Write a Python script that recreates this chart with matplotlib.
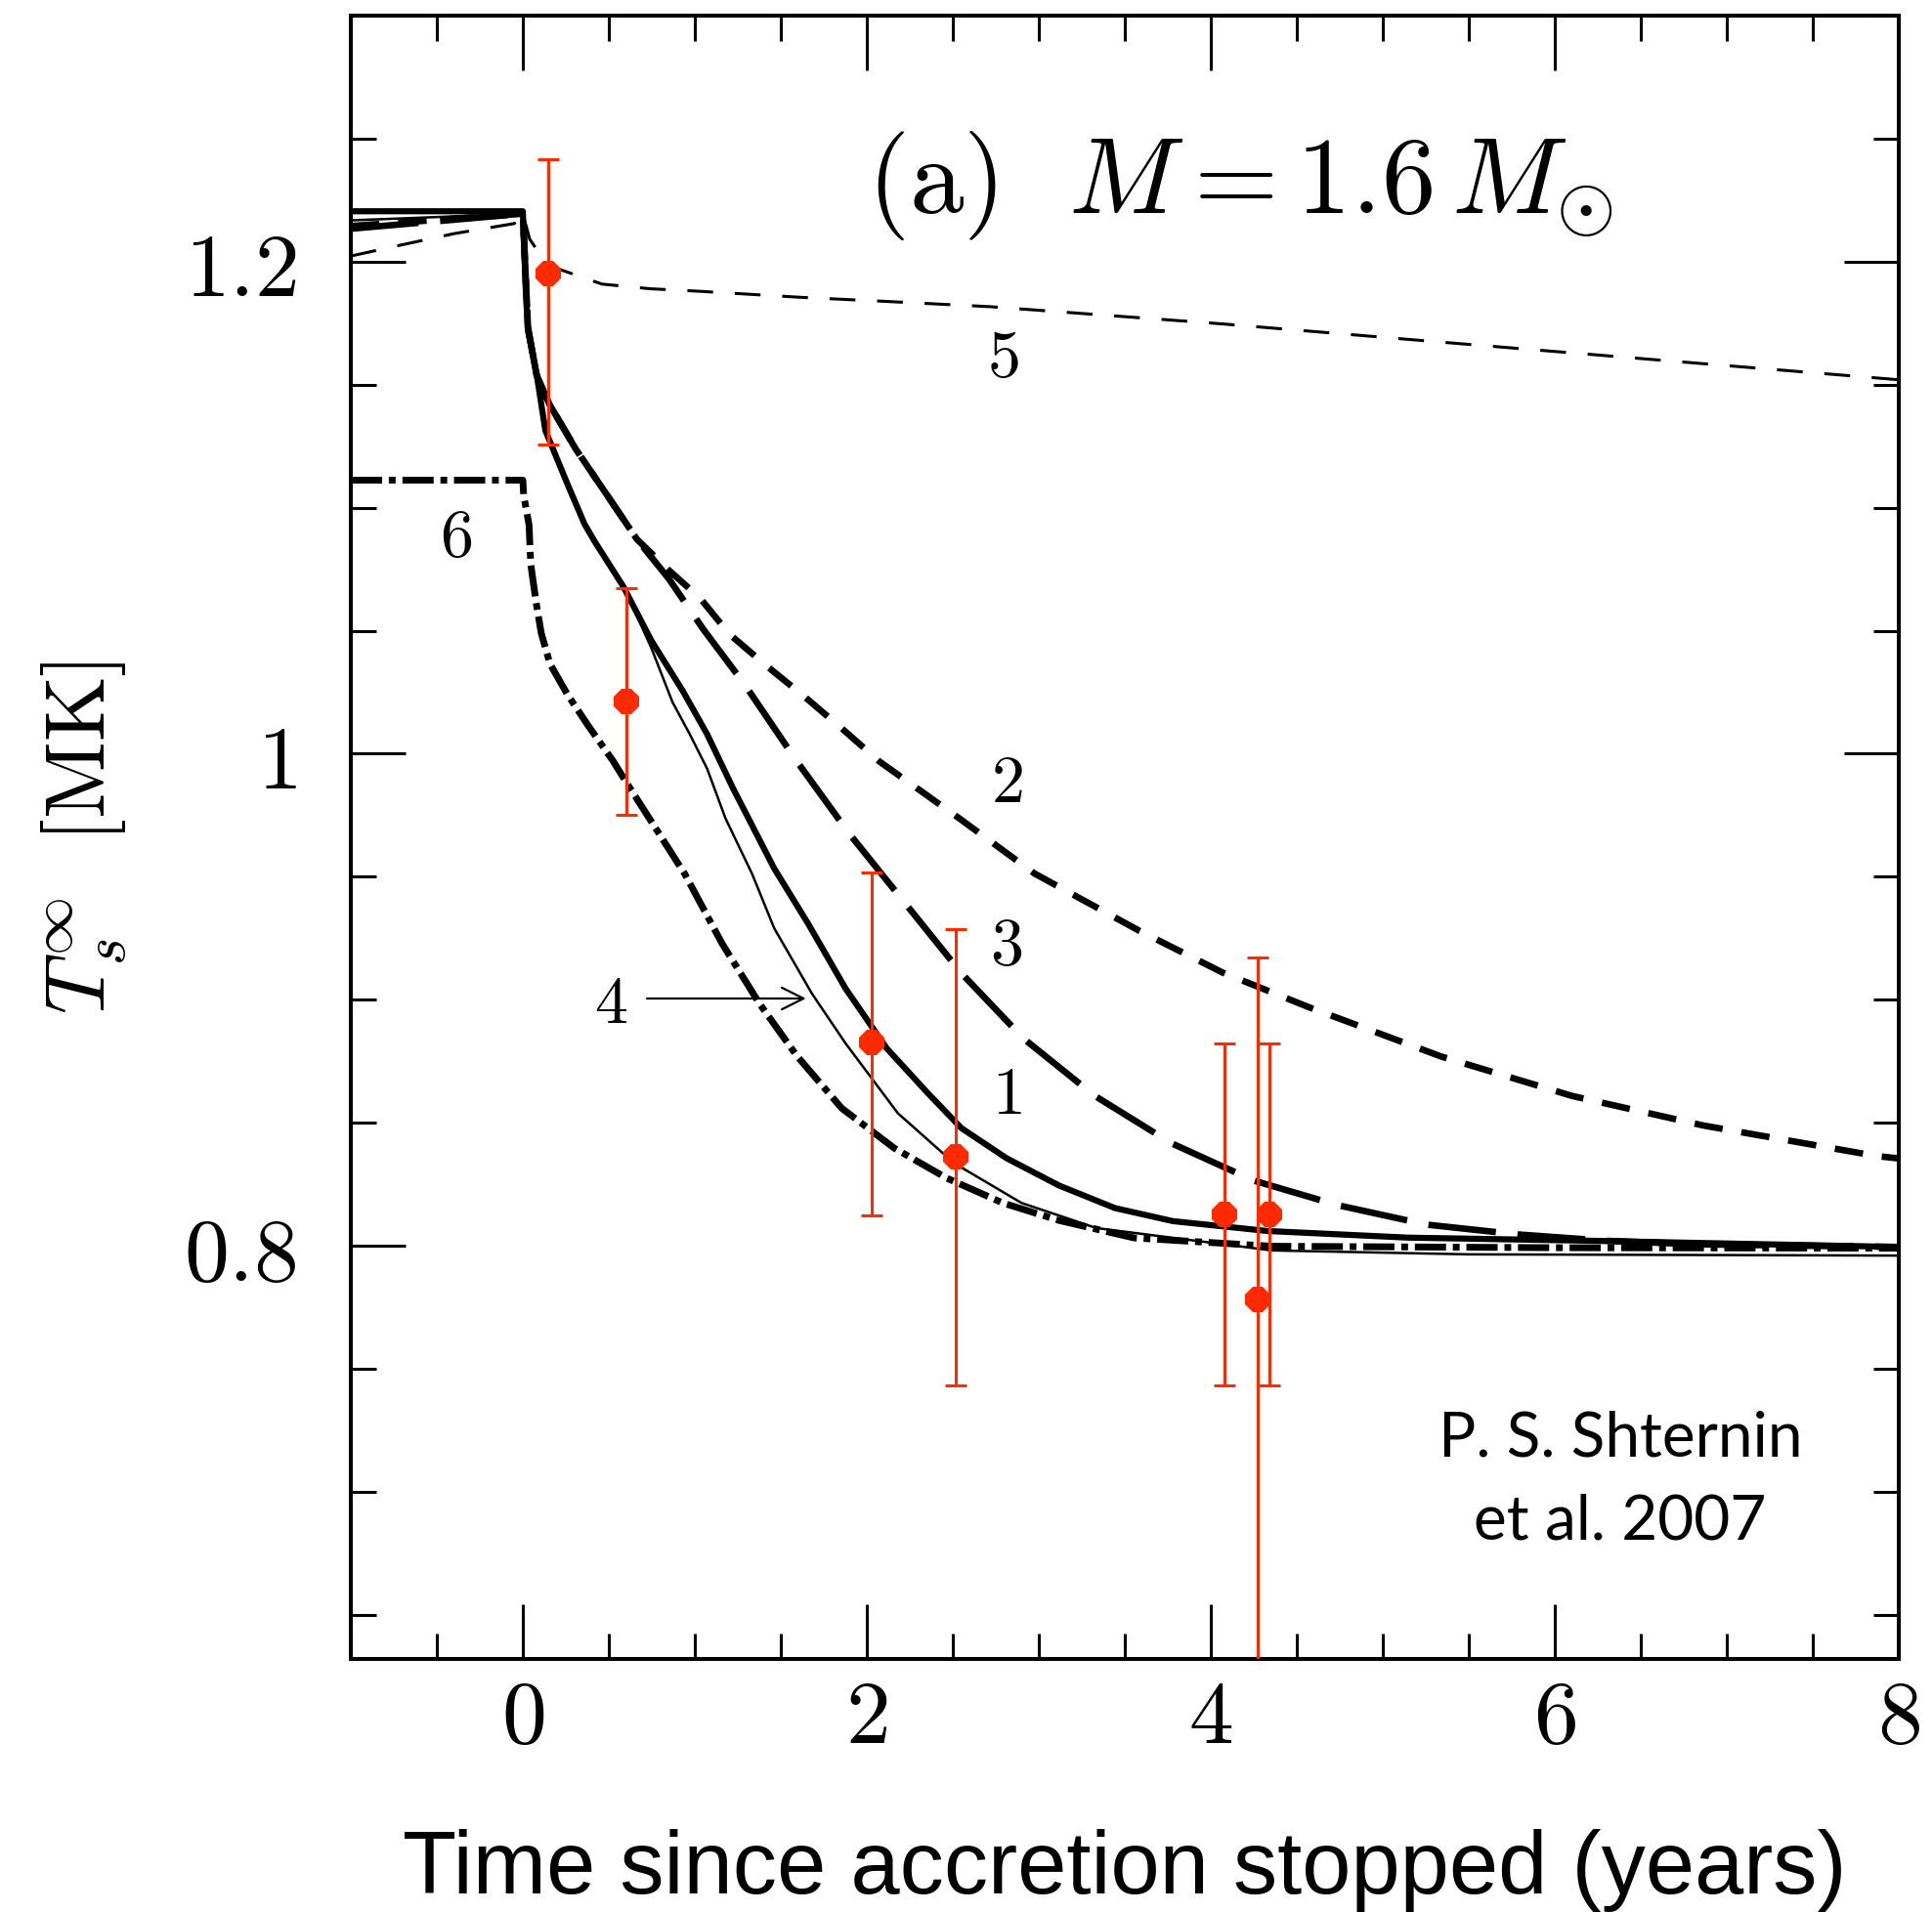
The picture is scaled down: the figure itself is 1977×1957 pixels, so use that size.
import matplotlib
matplotlib.use('Agg')
import matplotlib.pyplot as plt
from matplotlib.ticker import MultipleLocator

plt.rcParams['mathtext.fontset'] = 'cm'
plt.rcParams['lines.scale_dashes'] = False

# model cooling curves, time since accretion stopped (yr) vs T_s (MK)
t1 = [-1.0, 0.0, 0.016, 0.029, 0.08, 0.131, 0.257, 0.359, 0.42, 0.584, 0.747, 0.93,
      1.071, 1.223, 1.462, 1.658, 1.876, 2.115, 2.355, 2.55, 2.812, 3.117, 3.443,
      3.78, 4.328, 5.145, 6.233, 8.0]
T1 = [1.2205, 1.2205, 1.19, 1.1726, 1.1543, 1.1314, 1.110, 1.0933, 1.086, 1.068, 1.046,
      1.0255, 1.008, 0.9858, 0.9533, 0.931, 0.9046, 0.8803, 0.862, 0.8478, 0.8356,
      0.8245, 0.8153, 0.810, 0.806, 0.8033, 0.802, 0.7995]

t2 = [-1.0, 0.0, 0.03, 0.08, 0.155, 0.308, 0.486, 0.663, 0.85, 1.031, 1.201, 1.417,
      1.636, 1.864, 2.072, 2.54, 2.975, 3.585, 4.07, 4.576, 5.34, 6.10, 6.862, 7.877, 8.0]
T2 = [1.2145, 1.2195, 1.173, 1.154, 1.142, 1.1238, 1.1055, 1.0872, 1.0745, 1.0632,
      1.0486, 1.0357, 1.0233, 1.0097, 0.9969, 0.9736, 0.9513, 0.928, 0.911, 0.8968,
      0.8769, 0.8609, 0.8489, 0.8364, 0.8355]

t3 = [-1.0, 0.0, 0.03, 0.08, 0.155, 0.308, 0.486, 0.663, 0.85, 1.048, 1.288, 1.593,
      1.898, 2.224, 2.551, 2.91, 3.324, 3.77, 4.249, 4.737, 5.254, 5.784, 6.30, 6.832, 8.0]
T3 = [1.2134, 1.2195, 1.173, 1.154, 1.142, 1.1238, 1.1055, 1.0872, 1.071, 1.0507,
      1.0283, 0.9969, 0.9675, 0.9391, 0.9107, 0.8843, 0.861, 0.8417, 0.8265, 0.8165,
      0.8086, 0.8046, 0.802, 0.8006, 0.7995]

t4 = [-1.0, 0.0, 0.016, 0.029, 0.08, 0.131, 0.257, 0.359, 0.486, 0.625, 0.747, 0.87,
      0.97, 1.071, 1.179, 1.332, 1.462, 1.68, 1.876, 2.18, 2.507, 2.899, 3.334, 4.353,
      5.5, 8.0]
T4 = [1.2168, 1.2195, 1.19, 1.1726, 1.1543, 1.1314, 1.1085, 1.0933, 1.078, 1.062,
      1.043, 1.021, 1.008, 0.994, 0.9736, 0.9513, 0.929, 0.9026, 0.8823, 0.8539,
      0.8336, 0.8174, 0.8072, 0.7981, 0.7965, 0.796]

t5 = [-1.0, -0.7, -0.4, -0.05, 0.0, 0.04, 0.1, 0.18, 0.46, 0.74, 1.02, 1.62, 2.07,
      2.72, 4.07, 5.34, 6.61, 8.0]
T5 = [1.2023, 1.2069, 1.2114, 1.2155, 1.2195, 1.2091, 1.203, 1.1977, 1.1909, 1.189,
      1.188, 1.1855, 1.184, 1.1817, 1.1747, 1.1673, 1.160, 1.152]

t6 = [-1.0, 0.0, 0.005, 0.036, 0.046, 0.077, 0.107, 0.158, 0.26, 0.381, 0.523, 0.605,
      0.94, 1.158, 1.375, 1.593, 1.854, 2.159, 2.464, 2.79, 3.117, 3.552, 4.353, 6.0, 8.0]
T6 = [1.1112, 1.1112, 1.105, 1.093, 1.077, 1.0616, 1.049, 1.0365, 1.024, 1.0113,
      0.9972, 0.988, 0.9513, 0.9229, 0.8985, 0.8772, 0.8559, 0.8397, 0.8275, 0.8174,
      0.8103, 0.8032, 0.7998, 0.7992, 0.799]

# observations with asymmetric error bars
t_obs = [0.15, 0.60, 2.03, 2.515, 4.08, 4.275, 4.34]
T_obs = [1.1953, 1.0214, 0.8825, 0.8361, 0.8128, 0.7781, 0.8128]
T_up = [1.2418, 1.0672, 0.9519, 0.9288, 0.8824, 0.9170, 0.8824]
T_lo = [1.1257, 0.9750, 0.8125, 0.7434, 0.7431, 0.6000, 0.7431]

xticks = [0, 2, 4, 6, 8]
xticklabels = ['$0$', '$2$', '$4$', '$6$', '$8$']
yticks = [0.8, 1.0, 1.2]
yticklabels = ['$0.8$', '$1$', '$1.2$']

red = '#ff2a00'

fig = plt.figure(figsize=(19.77, 19.57), dpi=100)
ax = fig.add_axes([0.1816, 0.1323, 0.8012, 0.8595])

ax.plot(t6, T6, color='k', lw=5.0, linestyle=(0, (23, 5, 5, 5)))
ax.plot(t3, T3, color='k', lw=4.8, linestyle=(0, (50, 16)))
ax.plot(t2, T2, color='k', lw=4.8, linestyle=(0, (21, 14)))
ax.plot(t5, T5, color='k', lw=2.2, linestyle=(0, (19, 16)))
ax.plot(t4, T4, color='k', lw=1.8)
ax.plot(t1, T1, color='k', lw=4.5, solid_joinstyle='round')

yerr = [[o - l for o, l in zip(T_obs, T_lo)], [u - o for o, u in zip(T_obs, T_up)]]
ax.errorbar(t_obs, T_obs, yerr=yerr, fmt='none', ecolor=red,
            elinewidth=2.2, capsize=8, capthick=2.2, zorder=5)
ax.plot(t_obs, T_obs, '8', color=red, ms=20, mew=0, zorder=6)

# curve labels
lab_kw = dict(fontsize=49, ha='center', va='center')
ax.text(2.79, 1.161, '$5$', **lab_kw)
ax.text(2.812, 0.9878, '$2$', **lab_kw)
ax.text(2.812, 0.9219, '$3$', **lab_kw)
ax.text(2.812, 0.861, '$1$', **lab_kw)
ax.text(-0.387, 1.088, '$6$', **lab_kw)
ax.text(0.513, 0.898, '$4$', **lab_kw)
ax.annotate('', xy=(1.662, 0.9005), xytext=(0.706, 0.9005),
            arrowprops=dict(arrowstyle='->', lw=1.6, mutation_scale=40))

ax.text(2.0, 1.2196, r'$\mathrm{(a)}\ \ M = 1.6\,M_{\odot}$', fontsize=80,
        ha='left', va='baseline')

ax.text(6.38, 0.7146, 'P. S. Shternin', family='Lato', fontsize=46,
        ha='center', va='baseline')
ax.text(6.38, 0.6808, 'et al. 2007', family='Lato', fontsize=46,
        ha='center', va='baseline')

ax.set_xlim(-1, 8)
ax.set_ylim(0.632, 1.3)
ax.set_xticks(xticks, xticklabels)
ax.set_yticks(yticks, yticklabels)
ax.xaxis.set_minor_locator(MultipleLocator(0.5))
ax.yaxis.set_minor_locator(MultipleLocator(0.05))
ax.tick_params(which='both', direction='in', top=True, right=True, width=2.2)
ax.tick_params(which='major', length=40, labelsize=66)
ax.tick_params(axis='x', which='major', pad=11)
ax.tick_params(axis='y', which='major', pad=40)
ax.tick_params(which='minor', length=19)
for s in ax.spines.values():
    s.set_linewidth(2.9)

ax.set_xlabel('Time since accretion stopped (years)', family='Liberation Sans',
              fontsize=65)
ax.xaxis.set_label_coords(0.5, -0.1427)
ax.xaxis.label.set_va('baseline')
ax.set_ylabel(r'$T_s^{\infty}\ \ [\mathrm{MK}]$', fontsize=62)
ax.yaxis.set_label_coords(-0.172, 0.5)
ax.yaxis.label.set_va('center')

fig.savefig('out.png', dpi=100)
